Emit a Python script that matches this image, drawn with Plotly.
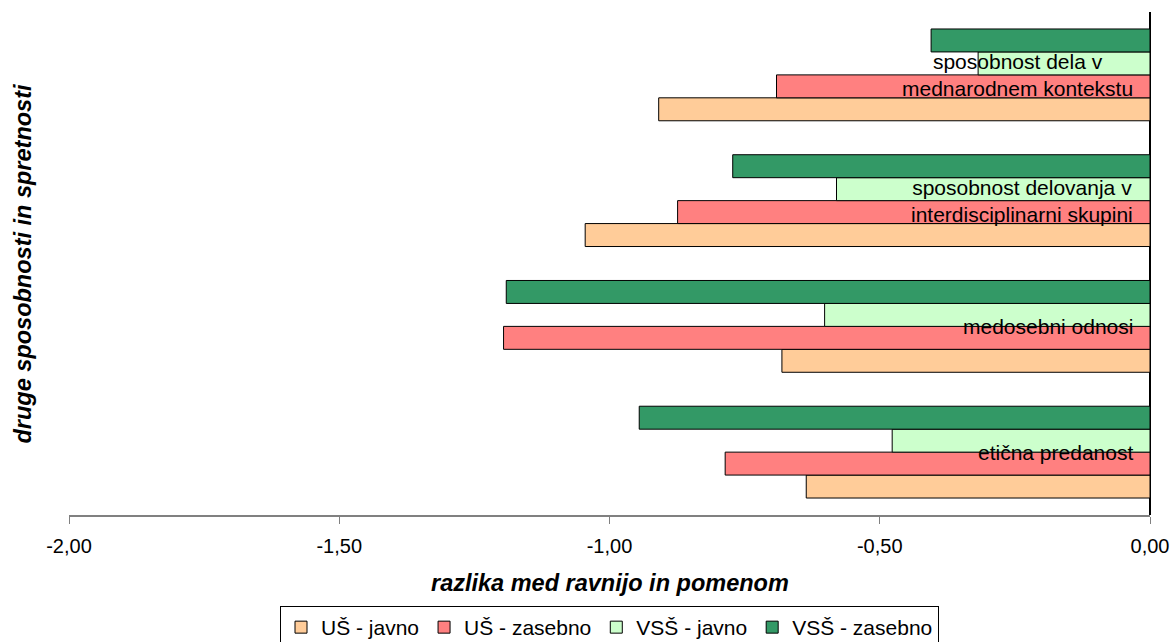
import plotly.graph_objects as go

# Categories, listed bottom to top as they appear on the chart
categories = [
    "etična predanost",
    "medosebni odnosi",
    "sposobnost delovanja v<br>interdisciplinarni skupini",
    "sposobnost dela v<br>mednarodnem kontekstu",
]

series_names = ["UŠ - javno", "UŠ - zasebno", "VSŠ - javno", "VSŠ - zasebno"]

us_javno = [-0.636, -0.681, -1.045, -0.909]
us_zasebno = [-0.786, -1.196, -0.874, -0.691]
vss_javno = [-0.477, -0.602, -0.580, -0.318]
vss_zasebno = [-0.945, -1.191, -0.772, -0.405]

series_values = [us_javno, us_zasebno, vss_javno, vss_zasebno]
series_colors = ["#FFCC99", "#FF8080", "#CCFFCC", "#339966"]

x_ticks = [-2.0, -1.5, -1.0, -0.5, 0.0]
x_tick_labels = ["-2,00", "-1,50", "-1,00", "-0,50", "0,00"]

FONT = "Liberation Sans, Arial, sans-serif"

fig = go.Figure()
for name, vals, col in zip(series_names, series_values, series_colors):
    fig.add_trace(go.Bar(
        y=categories,
        x=vals,
        name=name,
        orientation="h",
        marker=dict(color=col, line=dict(color="#000000", width=1)),
    ))

# Category labels drawn inside the plot, just left of the zero line
for cat in categories:
    fig.add_annotation(
        x=0, y=cat, xref="x", yref="y",
        text=cat, showarrow=False,
        xanchor="right", yanchor="middle", xshift=-15,
        align="center",
        font=dict(family=FONT, size=21, color="#000000"),
    )

# Axis titles
title_font = dict(family=FONT, size=23.5, color="#000000", weight="bold", style="italic")
fig.add_annotation(
    x=0.5, y=0, xref="paper", yref="paper", yshift=-68,
    text="razlika med ravnijo in pomenom", showarrow=False,
    xanchor="center", yanchor="middle", font=title_font,
)
fig.add_annotation(
    x=0, y=0.5, xref="paper", yref="paper", xshift=-47,
    text="druge sposobnosti in spretnosti", showarrow=False,
    textangle=-90, xanchor="center", yanchor="middle", font=title_font,
)

fig.update_layout(
    width=1173, height=642,
    margin=dict(l=69, r=23, t=12, b=127, autoexpand=False),
    paper_bgcolor="#FFFFFF", plot_bgcolor="#FFFFFF",
    barmode="group", bargap=0.27, bargroupgap=0,
    font=dict(family=FONT, size=20, color="#000000"),
    showlegend=True,
    legend=dict(
        orientation="h", x=0.5, xanchor="center",
        yref="container", y=1 - 606 / 642, yanchor="top",
        bordercolor="#000000", borderwidth=1, bgcolor="#FFFFFF",
        font=dict(family=FONT, size=21, color="#000000"),
        itemwidth=30, tracegroupgap=0,
    ),
    xaxis=dict(
        range=[-2, 0], tickvals=x_ticks, ticktext=x_tick_labels,
        showgrid=False, zeroline=True, zerolinecolor="#000000", zerolinewidth=1.5,
        showline=True, linecolor="#808080", linewidth=1.5,
        ticks="outside", ticklen=7, tickcolor="#808080", tickwidth=1,
        ticklabelstandoff=5,
        tickfont=dict(family=FONT, size=20, color="#000000"),
        automargin=False, fixedrange=True,
    ),
    yaxis=dict(
        showticklabels=False, showgrid=False, zeroline=False, showline=False,
        ticks="", automargin=False, fixedrange=True,
    ),
)

fig.write_html("out.html")
